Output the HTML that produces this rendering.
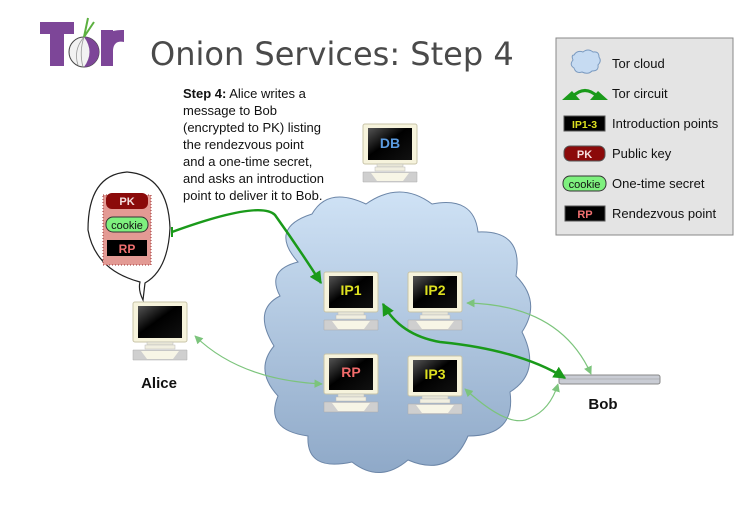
<!DOCTYPE html>
<html><head><meta charset="utf-8"><style>
html,body{margin:0;padding:0;background:#fff;}
svg{display:block;}
text{font-family:"Liberation Sans",sans-serif;}
</style></head><body>
<svg width="755" height="516" viewBox="0 0 755 516" xmlns="http://www.w3.org/2000/svg">
<defs>
<linearGradient id="cg" x1="0" y1="0" x2="0" y2="1">
<stop offset="0" stop-color="#cfe2f5"/><stop offset="1" stop-color="#8fa9c8"/>
</linearGradient>
<linearGradient id="scr" x1="0" y1="0" x2="1" y2="1">
<stop offset="0" stop-color="#555"/><stop offset="0.45" stop-color="#000"/><stop offset="1" stop-color="#111"/>
</linearGradient>
<marker id="ah" viewBox="0 0 10 10" refX="9" refY="5" markerWidth="5" markerHeight="5" orient="auto-start-reverse"><path d="M0,0 L10,5 L0,10 z" fill="#1a9a1a"/></marker>
<marker id="al" viewBox="0 0 10 10" refX="9" refY="5" markerWidth="7" markerHeight="7" orient="auto-start-reverse"><path d="M0,0 L10,5 L0,10 z" fill="#7cc47c"/></marker>
<g id="comp">
<rect x="0" y="0" width="54" height="40" rx="2" fill="#f6f3dc" stroke="#c8c4a8"/>
<rect x="5" y="4" width="44" height="32" fill="url(#scr)"/>
<rect x="14" y="40" width="26" height="3" fill="#e8e6d6" stroke="#bbb" stroke-width="0.5"/>
<rect x="12" y="43" width="30" height="4" fill="#f1efe0" stroke="#bbb" stroke-width="0.5"/>
<path d="M0,48 L54,48 L54,58 L0,58 z" fill="#cfcfcf" stroke="#aaa" stroke-width="0.5"/>
<path d="M8,49 L46,49 L40,57 L14,57 z" fill="#f7f5e6"/>
</g>
</defs>

<!-- Tor logo -->
<rect x="40" y="22" width="34" height="12" fill="#7d4698"/>
<rect x="50" y="22" width="14" height="44" fill="#7d4698"/>
<rect x="101" y="30" width="12" height="36" fill="#7d4698"/>
<path d="M101,44 Q104,29 124,30 L124,42 Q114,40 113,50 z" fill="#7d4698"/>
<circle cx="84" cy="52" r="15" fill="#f2f2f2" stroke="#444" stroke-width="1"/>
<path d="M84,37 A15,15 0 0 1 84,67 Q95,52 84,37z" fill="#7d4698"/>
<path d="M84,37 Q73,50 78,65 M84,37 Q79,52 83,67" fill="none" stroke="#999" stroke-width="0.8"/>
<path d="M84,37 L88,18 M84,37 L94,22" stroke="#5cb040" stroke-width="2"/>
<text x="150" y="65" font-size="32" fill="#4a4a4a" style="font-family:'DejaVu Sans',sans-serif">Onion Services: Step 4</text>

<!-- Description -->
<g font-size="13" fill="#111">
<text x="183" y="98"><tspan font-weight="bold">Step 4:</tspan> Alice writes a</text>
<text x="183" y="115">message to Bob</text>
<text x="183" y="132">(encrypted to PK) listing</text>
<text x="183" y="149">the rendezvous point</text>
<text x="183" y="166">and a one-time secret,</text>
<text x="183" y="183">and asks an introduction</text>
<text x="183" y="200">point to deliver it to Bob.</text>
</g>

<!-- DB -->
<use href="#comp" x="363" y="124"/>
<text x="390" y="148" font-size="14" font-weight="bold" fill="#5b9be0" text-anchor="middle">DB</text>

<!-- Legend -->
<rect x="556" y="38" width="177" height="197" fill="#e4e4e4" stroke="#888"/>
<path d="M574,55 q3,-5 9,-3 q5,-4 10,0 q6,-1 6,5 q3,4 -1,8 q1,6 -6,6 q-4,4 -10,1 q-6,2 -8,-4 q-5,-3 -1,-8 q-2,-5 1,-5z" fill="#c6dbf2" stroke="#7a9ac0"/>
<text x="612" y="68" font-size="13" fill="#111">Tor cloud</text>
<path d="M572,97 Q585,84 598,97" fill="none" stroke="#1a9a1a" stroke-width="3"/>
<path d="M562,100 L572,91 L580,100z M608,100 L598,91 L590,100z" fill="#1a9a1a"/>
<text x="612" y="98" font-size="13" fill="#111">Tor circuit</text>
<rect x="564" y="116" width="41" height="15" fill="#000" stroke="#555"/>
<text x="584.5" y="128" font-size="10.5" font-weight="bold" fill="#dde020" text-anchor="middle">IP1-3</text>
<text x="612" y="128" font-size="13" fill="#111">Introduction points</text>
<rect x="564" y="146" width="41" height="15" rx="6" fill="#8b0a0a" stroke="#555"/>
<text x="584.5" y="158" font-size="11" font-weight="bold" fill="#f4dede" text-anchor="middle">PK</text>
<text x="612" y="158" font-size="13" fill="#111">Public key</text>
<rect x="563" y="176" width="43" height="15" rx="7" fill="#7ef07e" stroke="#333"/>
<text x="584.5" y="188" font-size="11" fill="#111" text-anchor="middle">cookie</text>
<text x="612" y="188" font-size="13" fill="#111">One-time secret</text>
<rect x="565" y="206" width="40" height="15" fill="#000" stroke="#555"/>
<text x="585" y="218" font-size="11" font-weight="bold" fill="#f07070" text-anchor="middle">RP</text>
<text x="612" y="218" font-size="13" fill="#111">Rendezvous point</text>

<!-- Cloud -->
<path d="M298,262 Q268,228 312,214 Q328,186 366,204 Q400,180 432,204 Q474,196 478,232 Q524,230 516,276 Q542,302 522,332 Q542,372 510,392 Q516,436 468,436 Q450,478 408,460 Q380,484 352,462 Q306,472 308,436 Q264,430 278,396 Q254,370 274,346 Q252,310 280,296 Q266,270 298,262z" fill="url(#cg)" stroke="#6c86a8" stroke-width="1"/>

<!-- Nodes -->
<use href="#comp" x="324" y="272"/>
<text x="351" y="295" font-size="14" font-weight="bold" fill="#dde020" text-anchor="middle">IP1</text>
<use href="#comp" x="408" y="272"/>
<text x="435" y="295" font-size="14" font-weight="bold" fill="#dde020" text-anchor="middle">IP2</text>
<use href="#comp" x="324" y="354"/>
<text x="351" y="377" font-size="14" font-weight="bold" fill="#f06a6a" text-anchor="middle">RP</text>
<use href="#comp" x="408" y="356"/>
<text x="435" y="379" font-size="14" font-weight="bold" fill="#dde020" text-anchor="middle">IP3</text>

<!-- Alice -->
<use href="#comp" x="133" y="302"/>
<text x="159" y="388" font-size="15" font-weight="bold" fill="#111" text-anchor="middle">Alice</text>
<path d="M140,282 Q95,270 88,230 Q88,175 127,172 Q168,175 170,228 Q168,270 145,283 L143,300 Q138,290 140,282z" fill="#fff" stroke="#222" stroke-width="1.2"/>
<rect x="103" y="195" width="48" height="70" fill="#e39a94" stroke="#933" stroke-dasharray="1,2"/>
<rect x="106" y="193" width="42" height="16" rx="6" fill="#8b0a0a"/>
<text x="127" y="205" font-size="11" font-weight="bold" fill="#f4dede" text-anchor="middle">PK</text>
<rect x="106" y="217" width="42" height="15" rx="7" fill="#7ef07e" stroke="#333"/>
<text x="127" y="229" font-size="11" fill="#111" text-anchor="middle">cookie</text>
<rect x="107" y="240" width="40" height="16" fill="#000"/>
<text x="127" y="253" font-size="12" font-weight="bold" fill="#f07070" text-anchor="middle">RP</text>

<!-- Bob -->
<rect x="559" y="375" width="101" height="9" rx="2" fill="#c9ccd4" stroke="#888"/>
<line x1="559" y1="379" x2="660" y2="379" stroke="#999" stroke-width="0.5"/>
<text x="603" y="409" font-size="15" font-weight="bold" fill="#111" text-anchor="middle">Bob</text>

<!-- Arrows -->
<path d="M172,232 Q260,200 275,215 Q300,250 321,283" fill="none" stroke="#1a9a1a" stroke-width="2.5" marker-end="url(#ah)"/>
<line x1="172" y1="227" x2="172" y2="237" stroke="#1a9a1a" stroke-width="2"/>
<path d="M383,304 Q400,335 440,342 Q520,350 565,378" fill="none" stroke="#1a9a1a" stroke-width="2.5" marker-start="url(#ah)" marker-end="url(#ah)"/>
<path d="M195,336 Q240,380 322,384" fill="none" stroke="#7cc47c" stroke-width="1.2" marker-start="url(#al)" marker-end="url(#al)"/>
<path d="M467,303 Q560,305 591,374" fill="none" stroke="#7cc47c" stroke-width="1.2" marker-start="url(#al)" marker-end="url(#al)"/>
<path d="M465,389 Q510,430 530,418 Q550,410 558,384" fill="none" stroke="#7cc47c" stroke-width="1.2" marker-start="url(#al)" marker-end="url(#al)"/>
</svg>
</body></html>
